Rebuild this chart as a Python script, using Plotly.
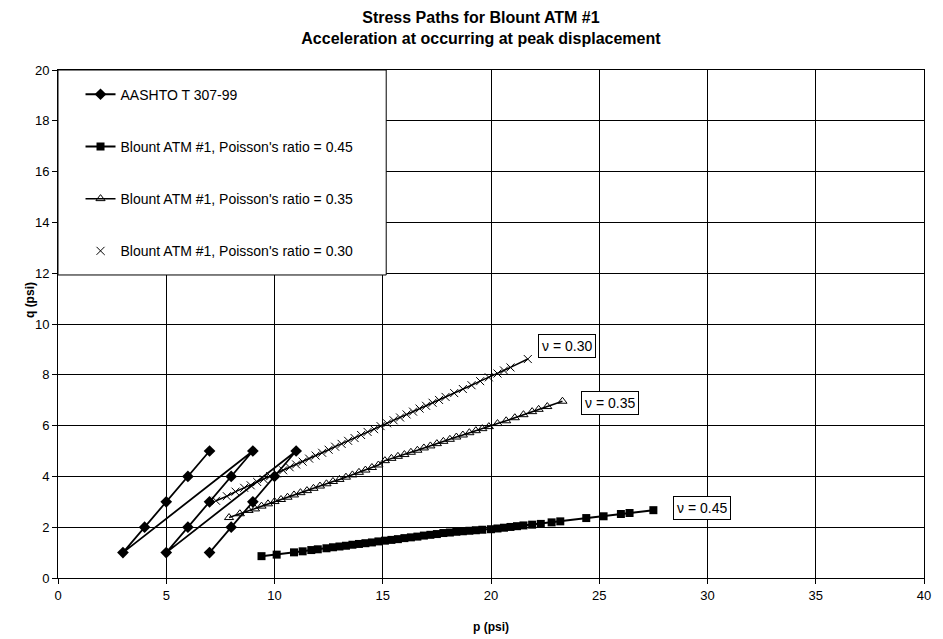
import plotly.graph_objects as go

# AASHTO T 307-99 loading sequences (confining stress 6, 4, 2 psi)
p_aashto = [7, 8, 9, 10, 11, 5, 6, 7, 8, 9, 3, 4, 5, 6, 7]
q_aashto = [1, 2, 3, 4, 5, 1, 2, 3, 4, 5, 1, 2, 3, 4, 5]

# Blount ATM #1, Poisson's ratio = 0.45
p_045 = [9.4, 10.1, 10.9, 11.3, 11.7, 12.0, 12.4, 12.7, 13.0, 13.3, 13.6, 13.9,
         14.2, 14.5, 14.8, 15.1, 15.4, 15.7, 16.0, 16.3, 16.6, 16.9, 17.2, 17.5,
         17.8, 18.1, 18.4, 18.7, 19.0, 19.3, 19.6, 20.0, 20.3, 20.6, 20.9, 21.2,
         21.5, 21.9, 22.3, 22.8, 23.2, 24.4, 25.2, 26.0, 26.4, 27.5]
q_045 = [0.86, 0.92, 1.01, 1.05, 1.10, 1.13, 1.17, 1.21, 1.24, 1.27, 1.31, 1.34,
         1.37, 1.40, 1.44, 1.47, 1.50, 1.53, 1.57, 1.60, 1.63, 1.67, 1.70, 1.73,
         1.77, 1.79, 1.82, 1.84, 1.86, 1.88, 1.90, 1.92, 1.95, 1.98, 2.01, 2.04,
         2.07, 2.10, 2.13, 2.19, 2.23, 2.36, 2.43, 2.52, 2.56, 2.67]

# Blount ATM #1, Poisson's ratio = 0.35
p_035 = [7.9, 8.4, 8.8, 9.1, 9.4, 9.7, 10.0, 10.3, 10.6, 10.9, 11.2, 11.5,
         11.8, 12.1, 12.4, 12.7, 13.0, 13.3, 13.6, 13.9, 14.2, 14.5, 14.8, 15.1,
         15.4, 15.7, 16.0, 16.3, 16.6, 16.9, 17.2, 17.5, 17.8, 18.1, 18.4, 18.7,
         19.0, 19.3, 19.6, 19.9, 20.3, 20.7, 21.1, 21.5, 21.9, 22.2, 22.6, 23.3]
q_035 = [2.38, 2.53, 2.66, 2.72, 2.83, 2.92, 3.01, 3.09, 3.18, 3.27, 3.36, 3.44,
         3.53, 3.62, 3.71, 3.80, 3.88, 3.97, 4.06, 4.16, 4.25, 4.35, 4.45, 4.62,
         4.71, 4.79, 4.86, 4.95, 5.03, 5.12, 5.20, 5.29, 5.38, 5.46, 5.55, 5.63,
         5.72, 5.80, 5.88, 5.96, 6.08, 6.19, 6.31, 6.43, 6.55, 6.64, 6.75, 6.96]

# Blount ATM #1, Poisson's ratio = 0.30
p_030 = [7.3, 7.8, 8.2, 8.6, 8.9, 9.2, 9.5, 9.8, 10.1, 10.4, 10.7, 11.0,
         11.3, 11.6, 11.9, 12.2, 12.5, 12.8, 13.1, 13.4, 13.7, 14.0, 14.3, 14.6,
         14.9, 15.2, 15.5, 15.8, 16.1, 16.4, 16.7, 17.0, 17.3, 17.6, 17.9, 18.3,
         18.7, 19.1, 19.5, 19.9, 20.3, 20.6, 20.9, 21.7]
q_030 = [3.04, 3.22, 3.40, 3.55, 3.65, 3.78, 3.89, 4.01, 4.12, 4.24, 4.36, 4.47,
         4.58, 4.70, 4.82, 4.93, 5.05, 5.17, 5.28, 5.40, 5.51, 5.63, 5.75, 5.86,
         5.98, 6.09, 6.21, 6.32, 6.44, 6.55, 6.67, 6.78, 6.90, 7.01, 7.13, 7.28,
         7.44, 7.59, 7.75, 7.90, 8.05, 8.17, 8.29, 8.62]

# Curve labels: (text, p, q)
labels = [("ν = 0.30", 23.5, 9.15), ("ν = 0.35", 25.5, 6.9), ("ν = 0.45", 29.75, 2.76)]

FONT = "Liberation Sans"
fig = go.Figure()

fig.add_trace(go.Scatter(
    x=p_aashto, y=q_aashto, mode="lines+markers", name="AASHTO T 307-99",
    legendgroup="a", line=dict(color="black", width=1.8),
    marker=dict(symbol="diamond", size=9, color="black")))

fig.add_trace(go.Scatter(
    x=p_045, y=q_045, mode="lines+markers",
    name="Blount ATM #1, Poisson's ratio = 0.45", legendgroup="b",
    line=dict(color="black", width=2),
    marker=dict(symbol="square", size=8, color="black")))

fig.add_trace(go.Scatter(
    x=p_035, y=q_035, mode="lines+markers",
    name="Blount ATM #1, Poisson's ratio = 0.35", legendgroup="c",
    line=dict(color="black", width=1.5),
    marker=dict(symbol="triangle-up-open", size=8, color="black",
                line=dict(width=1, color="black"))))

fig.add_trace(go.Scatter(
    x=p_030, y=q_030, mode="lines", showlegend=False, legendgroup="d",
    line=dict(color="black", width=1.5)))
fig.add_trace(go.Scatter(
    x=p_030, y=q_030, mode="markers",
    name="Blount ATM #1, Poisson's ratio = 0.30", legendgroup="d",
    marker=dict(symbol="x-thin-open", size=8, color="black",
                line=dict(width=1, color="black"))))

annotations = []
for text, px, qy in labels:
    annotations.append(dict(
        x=px, y=qy, xref="x", yref="y", text=text, showarrow=False,
        font=dict(family=FONT, size=14, color="black"),
        bgcolor="white", bordercolor="black", borderwidth=1, borderpad=3))

annotations.append(dict(
    x=0.5, y=-0.097, xref="paper", yref="paper", text="<b>p (psi)</b>",
    showarrow=False, xanchor="center", yanchor="middle",
    font=dict(family=FONT, size=12, color="black")))
annotations.append(dict(
    x=-0.033, y=0.548, xref="paper", yref="paper", text="<b>q (psi)</b>",
    showarrow=False, textangle=-90, xanchor="center", yanchor="middle",
    font=dict(family=FONT, size=12, color="black")))

axis_common = dict(
    showgrid=True, gridcolor="black", gridwidth=1, zeroline=False,
    showline=True, linecolor="black", linewidth=1, mirror=True,
    ticks="outside", tickcolor="black", ticklen=5,
    tickfont=dict(family=FONT, size=13, color="black"))

fig.update_layout(
    width=943, height=639,
    margin=dict(l=58, r=12, t=70, b=61),
    paper_bgcolor="white", plot_bgcolor="white",
    title=dict(
        text="<b>Stress Paths for Blount ATM #1<br>Acceleration at occurring at peak displacement</b>",
        x=0.51, xanchor="center", y=1 - 23 / 639, yanchor="middle",
        font=dict(family=FONT, size=16, color="black")),
    xaxis=dict(range=[0, 40], dtick=5, **axis_common),
    yaxis=dict(range=[0, 20], dtick=2, **axis_common),
    annotations=annotations,
    shapes=[dict(type="rect", xref="paper", yref="paper",
                 x0=0, x1=0.379, y0=0.5965, y1=1, layer="above",
                 fillcolor="white", line=dict(color="black", width=1))],
    legend=dict(x=0.026, y=0.983, xanchor="left", yanchor="top",
                bgcolor="rgba(0,0,0,0)", borderwidth=0, tracegroupgap=31,
                font=dict(family=FONT, size=14, color="black")),
    showlegend=True,
)

fig.write_html("out.html")
